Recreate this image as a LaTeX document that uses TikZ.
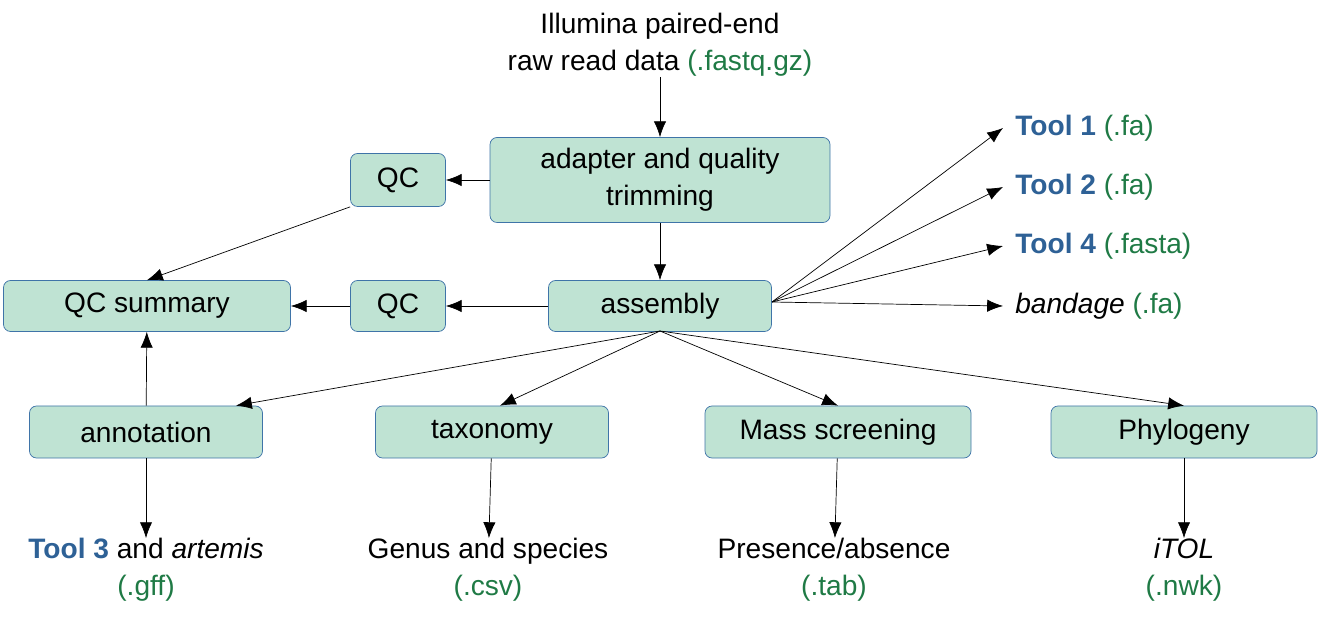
\documentclass[tikz,border=0pt]{standalone}
\usepackage{fontspec}
\setmainfont{Liberation Sans}
\usetikzlibrary{arrows.meta}
\usetikzlibrary{positioning}
\definecolor{boxfill}{HTML}{BFE3D3}
\definecolor{boxline}{HTML}{3F74A8}
\definecolor{ext}{HTML}{1F7A45}
\definecolor{toolc}{HTML}{2E6196}
\tikzstyle{stage} = [rectangle, rounded corners=4pt, draw=boxline, fill=boxfill, inner sep=0pt, align=center]
\tikzstyle{result} = [inner sep=0pt, align=center]
\tikzstyle{arrow} = [->, >={Latex[length=9pt,width=7pt]}]
\newcommand{\ext}[1]{\textcolor{ext}{#1}}
\newcommand{\tool}[1]{\textcolor{toolc}{\textbf{#1}}}

\begin{document}
\begin{tikzpicture}[x=0.02cm, y=-0.02cm, font=\fontsize{16}{21}\selectfont]
    \useasboundingbox (0,0) rectangle (1323,618);
    \node (raw) [result] at (660,45) {Illumina paired-end\\raw read data \ext{(.fastq.gz)}};
    \node (trim) [stage, minimum width=340*0.02cm, minimum height=85*0.02cm] at (660,180) {adapter and quality\\trimming};
    \node (qca) [stage, minimum width=95*0.02cm, minimum height=53*0.02cm] at (398,180) {QC};
    \node (sum) [stage, minimum width=287*0.02cm, minimum height=51*0.02cm] at (147,306) {QC summary};
    \node (qcb) [stage, minimum width=95*0.02cm, minimum height=51*0.02cm] at (398,306) {QC};
    \node (asm) [stage, minimum width=223*0.02cm, minimum height=51*0.02cm] at (660,306) {assembly};
    \node (ann) [stage, minimum width=233*0.02cm, minimum height=52*0.02cm] at (146,432) {annotation};
    \node (tax) [stage, minimum width=233*0.02cm, minimum height=52*0.02cm] at (492,432) {taxonomy};
    \node (mass) [stage, minimum width=266*0.02cm, minimum height=52*0.02cm] at (838,432) {Mass screening};
    \node (phy) [stage, minimum width=266*0.02cm, minimum height=52*0.02cm] at (1184,432) {Phylogeny};
    % outputs
    \node (oann) [result] at (146,570) {\tool{Tool 3} and \textit{artemis}\\\ext{(.gff)}};
    \node (otax) [result] at (488,570) {Genus and species\\\ext{(.csv)}};
    \node (omass) [result] at (834,570) {Presence/absence\\\ext{(.tab)}};
    \node (ophy) [result] at (1184,570) {\textit{iTOL}\\\ext{(.nwk)}};
    \node (t1) [result, anchor=west] at (1015,128) {\tool{Tool 1} \ext{(.fa)}};
    \node (t2) [result, anchor=west] at (1015,187) {\tool{Tool 2} \ext{(.fa)}};
    \node (t4) [result, anchor=west] at (1015,246) {\tool{Tool 4} \ext{(.fasta)}};
    \node (band) [result, anchor=west] at (1015,306) {\textit{bandage} \ext{(.fa)}};
    \coordinate (asmr) at (772,302);
    \coordinate (asmb) at (660,331);

    \draw[arrow] (raw) -- (trim);
    \draw[arrow] (trim) -- (qca);
    \draw[arrow] (trim) -- (asm);
    \draw[arrow] (qca.south west) -- (sum.north);
    \draw[arrow] (asm) -- (qcb);
    \draw[arrow] (qcb) -- (sum);
    \draw[arrow] (ann) -- (sum);
    \draw[arrow] (asmr) -- ([xshift=-12*0.02cm]t1.west);
    \draw[arrow] (asmr) -- ([xshift=-12*0.02cm]t2.west);
    \draw[arrow] (asmr) -- ([xshift=-12*0.02cm]t4.west);
    \draw[arrow] (asmr) -- ([xshift=-12*0.02cm]band.west);
    \draw[arrow] (asmb) -- ([xshift=90*0.02cm]ann.north);
    \draw[arrow] (asmb) -- ([xshift=8*0.02cm]tax.north);
    \draw[arrow] (asmb) -- (mass.north);
    \draw[arrow] (asmb) -- (phy.north);
    \draw[arrow] (ann) -- (oann);
    \draw[arrow] (tax) -- (otax);
    \draw[arrow] (mass) -- (omass);
    \draw[arrow] (phy) -- (ophy);
\end{tikzpicture}
\end{document}
